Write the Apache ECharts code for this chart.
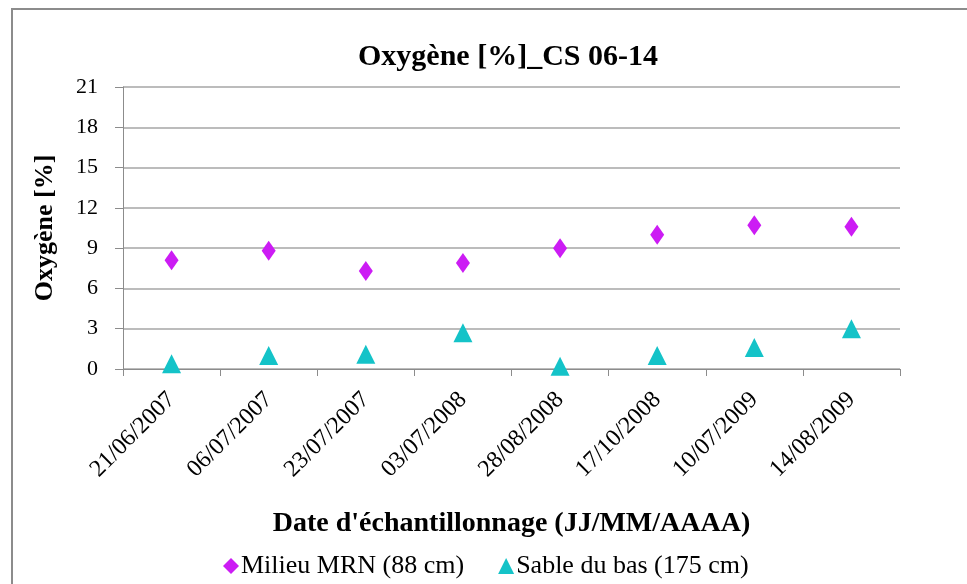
<!DOCTYPE html>
<html>
<head>
<meta charset="utf-8">
<script src="https://cdn.jsdelivr.net/npm/echarts@6/dist/echarts.min.js"></script>
<style>
  html, body { margin: 0; padding: 0; background: #fff; }
  #chart { width: 967px; height: 584px; }
</style>
</head>
<body>
<div id="chart"></div>
<script>
// dates of sampling (JJ/MM/AAAA)
var dates = ['21/06/2007', '06/07/2007', '23/07/2007', '03/07/2008',
             '28/08/2008', '17/10/2008', '10/07/2009', '14/08/2009'];
// oxygen [%]
var milieu_mrn = [8.1, 8.8, 7.3, 7.9, 9.0, 10.0, 10.7, 10.6];
var sable_bas = [0.4, 1.0, 1.1, 2.7, 0.2, 1.0, 1.6, 3.0];

var font = 'Liberation Serif';

var chart = echarts.init(document.getElementById('chart'));

var option = {
    animation: false,
    textStyle: { fontFamily: font },
    title: {
        text: 'Oxygène [%]_CS 06-14',
        left: 503,
        top: 37,
        textAlign: 'center',
        textStyle: { fontFamily: font, fontSize: 30, fontWeight: 'bold', color: '#000' }
    },
    graphic: [{
        type: 'rect',
        shape: { x: 12, y: 9, width: 1000, height: 620 },
        style: { fill: 'none', stroke: '#8c8c8c', lineWidth: 2 },
        silent: true
    }],
    grid: { left: 123, right: 67, top: 87, bottom: 215 },
    legend: {
        bottom: 0,
        left: 218,
        itemGap: 34,
        itemWidth: 16,
        itemHeight: 16,
        itemStyle: { borderWidth: 0 },
        textStyle: { fontFamily: font, fontSize: 26, color: '#000', padding: [0, 0, 0, -3] },
        data: [
            { name: 'Milieu MRN (88 cm)', icon: 'diamond', itemStyle: { color: '#cc1cf4', opacity: 1 } },
            { name: 'Sable du bas (175 cm)', icon: 'triangle', itemStyle: { color: '#14c3c8', opacity: 1 } }
        ]
    },
    xAxis: {
        type: 'category',
        data: dates,
        boundaryGap: true,
        name: "Date d'échantillonnage (JJ/MM/AAAA)",
        nameLocation: 'middle',
        nameGap: 141,
        nameTextStyle: { fontFamily: font, fontSize: 28, fontWeight: 'bold', color: '#000' },
        axisLine: { lineStyle: { color: '#8c8c8c', width: 1 } },
        axisTick: { show: true, length: 7, lineStyle: { color: '#8c8c8c' } },
        axisLabel: { rotate: 45, fontSize: 24, color: '#000', fontFamily: font, margin: 27 },
        splitLine: { show: false }
    },
    yAxis: {
        type: 'value',
        min: 0,
        max: 21,
        interval: 3,
        name: 'Oxygène [%]',
        nameLocation: 'middle',
        nameGap: 65,
        nameTextStyle: { fontFamily: font, fontSize: 26, fontWeight: 'bold', color: '#000' },
        axisLine: { show: true, lineStyle: { color: '#8c8c8c', width: 1 } },
        axisTick: { show: true, length: 8, lineStyle: { color: '#8c8c8c' } },
        axisLabel: { fontSize: 22, color: '#000', fontFamily: font, margin: 25 },
        splitLine: { lineStyle: { color: '#a6a6a6', width: 1.5 } }
    },
    series: [
        {
            name: 'Milieu MRN (88 cm)',
            type: 'scatter',
            symbol: 'diamond',
            symbolSize: [14, 20],
            itemStyle: { color: '#cc1cf4', opacity: 1 },
            data: milieu_mrn
        },
        {
            name: 'Sable du bas (175 cm)',
            type: 'scatter',
            symbol: 'triangle',
            symbolSize: [19, 19],
            itemStyle: { color: '#14c3c8', opacity: 1 },
            data: sable_bas
        }
    ]
};

chart.setOption(option);
</script>
</body>
</html>
